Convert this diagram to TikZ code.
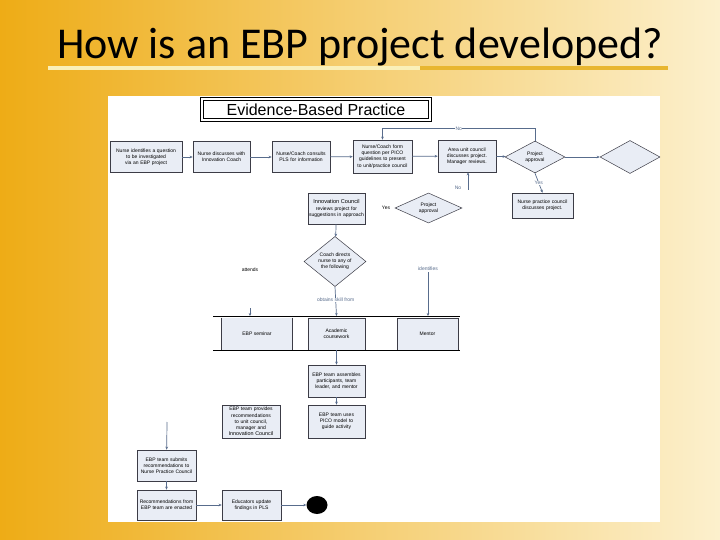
\documentclass[tikz,border=0pt]{standalone}
\usepackage{fontspec}
\setsansfont{Liberation Sans}
\newfontfamily\titlefont{Carlito}
\usepackage{tikz}
\usetikzlibrary{shapes.geometric, arrows.meta, positioning, calc}
\hyphenpenalty=10000
\exhyphenpenalty=10000
\definecolor{bgleft}{RGB}{238,172,22}
\definecolor{bgright}{RGB}{252,240,205}
\definecolor{boxfill}{RGB}{233,237,245}
\definecolor{boxline}{RGB}{60,60,70}
\definecolor{arrowblue}{RGB}{88,108,140}
\definecolor{barpale}{RGB}{250,240,185}
\definecolor{bargold}{RGB}{232,182,48}
\tikzset{
  stepbox/.style={rectangle, draw=boxline, fill=boxfill, align=center,
    inner sep=1pt, font=\sffamily\fontsize{5}{6.2}\selectfont, line width=0.6pt},
  decide/.style={diamond, draw=boxline, fill=boxfill, align=center,
    inner sep=0pt, font=\sffamily\fontsize{5}{6.2}\selectfont, line width=0.5pt},
  flowlabel/.style={font=\sffamily\fontsize{5}{6}\selectfont, fill=white, inner sep=0.5pt},
  arrow/.style={-{Stealth[length=3pt, width=2.6pt]}, line width=0.7pt, color=arrowblue},
  line/.style={line width=0.7pt, color=arrowblue}
}

\begin{document}
\begin{tikzpicture}[x=1pt, y=-1pt]
  \useasboundingbox (0,0) rectangle (720,540);
  \shade[left color=bgleft, right color=bgright] (0,0) rectangle (720,540);

  % Title
  \node[font=\titlefont\fontsize{44}{50}\selectfont, inner sep=0pt] (title) at (360,47) {How is an EBP project developed?};
  \fill[barpale] (48,66) rectangle (420,70);
  \fill[bargold] (420,66) rectangle (668,70);

  % Panel
  \fill[white] (108,96) rectangle (660,522);
  \node[fill=white, minimum width=230pt, minimum height=23pt, inner sep=0pt,
    font=\sffamily\fontsize{16}{18}\selectfont] (banner) at (316,109.5) {Evidence-Based Practice};
  \draw[black, line width=1pt] (banner.north west) rectangle (banner.south east);
  \draw[black, line width=0.5pt] ($(banner.north west)+(2.5,2.5)$) rectangle ($(banner.south east)+(-2.5,-2.5)$);

  % First row
  \node[stepbox, minimum width=72pt, minimum height=31pt, text width=60pt] (nurseq) at (146,157) {Nurse identifies a question to be investigated via an EBP project};
  \node[stepbox, minimum width=57pt, minimum height=31pt, text width=50pt] (discuss) at (221.5,157) {Nurse discusses with Innovation Coach};
  \node[stepbox, minimum width=58pt, minimum height=31pt, text width=50pt] (consult) at (301,157) {Nurse/Coach consults PLS for information};
  \node[stepbox, minimum width=59pt, minimum height=33pt, text width=54pt] (formq) at (382.5,156.5) {Nurse/Coach form question per PICO guidelines to present to unit/practice council};
  \node[stepbox, minimum width=58pt, minimum height=32pt, text width=52pt] (unitcouncil) at (467,156) {Area unit council discusses project. Manager reviews.};
  \node[decide, minimum width=60pt, minimum height=32pt] (approve) at (535,157) {Project\\approval};
  \node[decide, minimum width=60pt, minimum height=33pt] (blankd) at (630,157) {};

  % Approval branch
  \node[stepbox, minimum width=61pt, minimum height=25pt, text width=52pt] (npc) at (542.5,205.5) {Nurse practice council discusses project.};
  \node[stepbox, minimum width=57pt, minimum height=31pt, text width=55pt, line width=0.9pt] (innov) at (336.5,208.5) {{\fontsize{5.6}{6.4}\selectfont Innovation Council}\\reviews project for suggestions in approach};
  \node[decide, minimum width=67pt, minimum height=30pt] (approve2) at (428.5,208) {Project\\approval};
  \node[flowlabel] (yeslbl) at (386,208) {Yes};
  \coordinate (noup) at (468,190);

  % Coach
  \node[decide, minimum width=62pt, minimum height=47pt] (coach) at (335,261.5) {Coach directs\\nurse to any of\\the following};
  \node[flowlabel] (attends) at (250,270) {attends};
  \coordinate (attendsend) at (250,308);
  \coordinate (identpt) at (428,272);

  % Options
  \coordinate (barL) at (213,316);
  \coordinate (barR) at (460,316);
  \node[stepbox, draw=none, minimum width=70pt, minimum height=32pt] (seminar) at (257,334) {EBP seminar};
  \node[stepbox, minimum width=57pt, minimum height=32pt, text width=53pt] (course) at (336.5,334) {Academic\\coursework};
  \node[stepbox, minimum width=61pt, minimum height=32pt] (mentor) at (427.5,334) {Mentor};
  \draw[boxline, line width=0.6pt] (seminar.north west) -- (seminar.south west) (seminar.north east) -- (seminar.south east);
  \draw[black, line width=0.8pt] (barL) -- (barR);
  \draw[black, line width=0.8pt] ($(barL)+(0,34)$) -- ($(barR)+(0,34)$);

  % Team
  \node[stepbox, minimum width=57pt, minimum height=32pt, text width=52pt] (assemble) at (336.5,381) {EBP team assembles participants, team leader, and mentor};
  \node[stepbox, minimum width=57pt, minimum height=33pt, text width=50pt] (pico) at (336.5,421.5) {EBP team uses PICO model to guide activity};
  \node[stepbox, minimum width=58pt, minimum height=33pt, text width=54pt] (provide) at (251,421.5) {EBP team provides recommendations to unit council, manager and\\{\fontsize{5.4}{6.2}\selectfont Innovation Council}};
  \coordinate (submitin) at (167,422);
  \node[stepbox, minimum width=59pt, minimum height=31pt, text width=55pt] (submit) at (166.5,465.5) {EBP team submits recommendations to Nurse Practice Council};
  \node[stepbox, minimum width=59pt, minimum height=30pt, text width=55pt] (recs) at (166.5,505) {Recommendations from EBP team are enacted};
  \node[stepbox, minimum width=59pt, minimum height=30pt, text width=50pt] (update) at (251.5,505) {Educators update findings in PLS};
  \node[ellipse, fill=black, minimum width=21pt, minimum height=18pt, inner sep=0pt] (stop) at (317,505) {};

  % Arrows
  \draw[arrow] (nurseq) -- (discuss);
  \draw[arrow] (discuss) -- (consult);
  \draw[arrow] (consult) -- (formq);
  \draw[arrow] (formq) -- (unitcouncil);
  \draw[arrow] (unitcouncil) -- (approve);
  \draw[arrow] (approve) -- (blankd);
  \draw[arrow] (approve.north) -- ++(0,-12) -| (formq.north) node[pos=0.25, flowlabel] {No};
  \draw[arrow] (approve.south) -- (npc.north) node[midway, flowlabel] {Yes};
  \draw[arrow] (noup) -- (noup |- unitcouncil.south) node[pos=0.1, left=6pt, flowlabel] {No};
  \draw[arrow] (innov) -- (coach);
  \draw[arrow] (coach.south) -- (course.north |- barL) node[pos=0.45, flowlabel] {obtains skill from};
  \draw[arrow] (attendsend) -- (attendsend |- barL);
  \draw[arrow] (identpt) -- (identpt |- barL) node[pos=0, above=1pt, flowlabel] {identifies};
  \draw[arrow] (course) -- (assemble);
  \draw[arrow] (assemble) -- (pico);
  \draw[arrow] (submitin) -- (submit);
  \draw[arrow] (submit) -- (recs);
  \draw[arrow] (recs) -- (update);
  \draw[arrow] (update) -- (stop);
\end{tikzpicture}
\end{document}
